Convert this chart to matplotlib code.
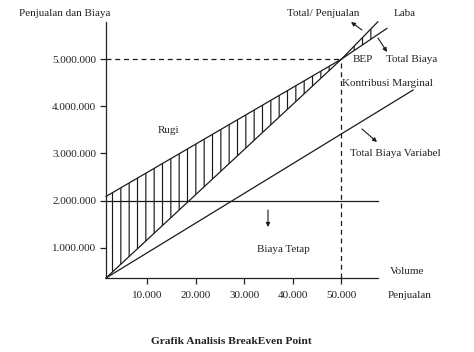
import numpy as np
import matplotlib
matplotlib.use("Agg")
import matplotlib.pyplot as plt
from matplotlib.ticker import FuncFormatter

# ---- data ----
volume_ticks = [10000, 20000, 30000, 40000, 50000]
value_ticks = [1000000, 2000000, 3000000, 4000000, 5000000]

bep_volume = 50000
bep_value = 5000000

sales_x = [1560, 50000, 57470]          # Total penjualan
sales_y = [362000, 5000000, 5790000]

total_cost_x = [1560, 50000, 59330]     # Total biaya
total_cost_y = [2090000, 5000000, 5650000]

fixed_cost_x = [1560, 57470]            # Biaya tetap
fixed_cost_y = [2000000, 2000000]

variable_cost_x = [1560, 64730]         # Total biaya variabel
variable_cost_y = [362000, 4345000]

x_limits = (1560, 57510)
y_limits = (362000, 5786000)

# ---- figure ----
W, H = 474, 352
plt.rcParams['font.family'] = ['Liberation Serif', 'DejaVu Serif']
plt.rcParams['hatch.linewidth'] = 0.85
fig = plt.figure(figsize=(W / 100, H / 100), dpi=100)
ax = fig.add_axes([106 / W, 1 - 278 / H, (378 - 106) / W, (278 - 22) / H])
ax.set_xlim(*x_limits)
ax.set_ylim(*y_limits)

for s in ('top', 'right'):
    ax.spines[s].set_visible(False)
for s in ('left', 'bottom'):
    ax.spines[s].set_linewidth(0.9)
    ax.spines[s].set_color('#222222')

ax.set_xticks(volume_ticks)
ax.set_yticks(value_ticks)
fmt = FuncFormatter(lambda v, p: f"{v:,.0f}".replace(',', '.'))
ax.xaxis.set_major_formatter(fmt)
ax.yaxis.set_major_formatter(fmt)
ax.tick_params(axis='both', direction='out', length=4.5, width=0.9,
               color='#222222', labelsize=8, labelcolor='#222222')
ax.tick_params(axis='y', pad=2.5)
ax.tick_params(axis='x', pad=5)

lc = '#1a1a1a'
lw = 0.9
ax.plot(sales_x, sales_y, color=lc, lw=lw, clip_on=False)
ax.plot(total_cost_x, total_cost_y, color=lc, lw=lw, clip_on=False)
ax.plot(fixed_cost_x, fixed_cost_y, color=lc, lw=lw, clip_on=False)
ax.plot(variable_cost_x, variable_cost_y, color=lc, lw=lw, clip_on=False)

# BEP guide lines
ax.plot([x_limits[0], bep_volume], [bep_value, bep_value], color=lc, lw=lw,
        ls=(0, (4, 3)))
ax.plot([bep_volume, bep_volume], [y_limits[0], bep_value], color=lc, lw=lw,
        ls=(0, (4, 3)))

# hatched loss / profit areas
xs = np.linspace(sales_x[0], sales_x[-1], 400)
s_line = np.interp(xs, sales_x, sales_y)
c_line = np.interp(xs, total_cost_x, total_cost_y)
ax.fill_between(xs, s_line, c_line, where=xs <= bep_volume, facecolor='none',
                edgecolor=lc, hatch='||', linewidth=0)
ax.fill_between(xs, c_line, s_line, where=xs >= bep_volume, facecolor='none',
                edgecolor=lc, hatch='||', linewidth=0)


def px(x, y):
    return (x / W, 1 - y / H)


tc = '#222222'
fs = 8
def label(x, y, s, ha='left', **kw):
    fig.text(*px(x, y), s, ha=ha, va='center', fontsize=kw.pop('fontsize', fs),
             color=tc, **kw)

label(19, 14, 'Penjualan dan Biaya')
label(168, 131, 'Rugi', ha='center')
label(287, 14, 'Total/ Penjualan')
label(394, 14, 'Laba')
label(353, 60, 'BEP')
label(386, 60, 'Total Biaya')
label(342, 83, 'Kontribusi Marginal')
label(350, 154, 'Total Biaya Variabel')
label(283, 249, 'Biaya Tetap', ha='center')
label(390, 271, 'Volume')
label(388, 296, 'Penjualan')
label(231, 342, 'Grafik Analisis BreakEven Point', ha='center',
      fontsize=8.2, fontweight='bold')


def arrow(x0, y0, x1, y1):
    ax.annotate('', xy=px(x1, y1), xycoords='figure fraction',
                xytext=px(x0, y0), textcoords='figure fraction',
                arrowprops=dict(arrowstyle='-|>', color=lc, lw=0.8,
                                mutation_scale=6, shrinkA=0, shrinkB=0))

arrow(362, 30, 351, 22)
arrow(378, 38, 387, 52)
arrow(362, 129, 377, 142)
arrow(268, 210, 268, 227)

fig.savefig('out.png', dpi=100)
